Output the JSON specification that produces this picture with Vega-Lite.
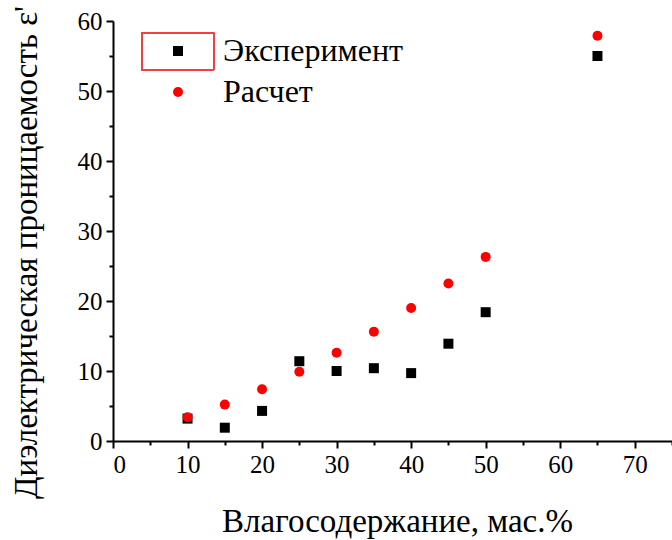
{
  "$schema": "https://vega.github.io/schema/vega-lite/v6.json",
  "autosize": {"type": "none"},
  "width": 559,
  "height": 420,
  "padding": {"left": 113, "top": 21, "right": 0, "bottom": 99},
  "background": "white",
  "config": {
    "view": {"stroke": null},
    "font": "Liberation Serif",
    "axis": {
      "grid": false,
      "domainColor": "black",
      "domainWidth": 2,
      "tickColor": "black",
      "tickWidth": 2,
      "labelFont": "Liberation Serif",
      "labelColor": "black",
      "labelFontSize": 25,
      "titleFont": "Liberation Serif",
      "titleColor": "black",
      "titleFontWeight": "normal",
      "titleFontSize": 33
    },
    "legend": {"padding": 0}
  },
  "data": {
    "values": [
      {"w": 10, "eps": 3.2, "series": "Эксперимент"},
      {"w": 15, "eps": 1.9, "series": "Эксперимент"},
      {"w": 20, "eps": 4.3, "series": "Эксперимент"},
      {"w": 25, "eps": 11.4, "series": "Эксперимент"},
      {"w": 30, "eps": 10.0, "series": "Эксперимент"},
      {"w": 35, "eps": 10.4, "series": "Эксперимент"},
      {"w": 40, "eps": 9.7, "series": "Эксперимент"},
      {"w": 45, "eps": 13.9, "series": "Эксперимент"},
      {"w": 50, "eps": 18.4, "series": "Эксперимент"},
      {"w": 65, "eps": 55.0, "series": "Эксперимент"},
      {"w": 10, "eps": 3.4, "series": "Расчет"},
      {"w": 15, "eps": 5.2, "series": "Расчет"},
      {"w": 20, "eps": 7.4, "series": "Расчет"},
      {"w": 25, "eps": 9.9, "series": "Расчет"},
      {"w": 30, "eps": 12.6, "series": "Расчет"},
      {"w": 35, "eps": 15.6, "series": "Расчет"},
      {"w": 40, "eps": 19.0, "series": "Расчет"},
      {"w": 45, "eps": 22.5, "series": "Расчет"},
      {"w": 50, "eps": 26.3, "series": "Расчет"},
      {"w": 65, "eps": 57.9, "series": "Расчет"}
    ]
  },
  "resolve": {"axis": {"x": "independent", "y": "independent"}},
  "layer": [
    {
      "description": "minor ticks at the half steps",
      "mark": {"type": "point", "opacity": 0},
      "encoding": {
        "x": {
          "field": "w", "type": "quantitative",
          "scale": {"domain": [0, 75], "nice": false},
          "axis": {"orient": "bottom", "values": [5, 15, 25, 35, 45, 55, 65, 75], "labels": false, "domain": false, "tickSize": 4, "title": null}
        },
        "y": {
          "field": "eps", "type": "quantitative",
          "scale": {"domain": [0, 60], "nice": false},
          "axis": {"orient": "left", "values": [5, 15, 25, 35, 45, 55], "labels": false, "domain": false, "tickSize": 4, "title": null}
        }
      }
    },
    {
      "mark": {"type": "rect", "filled": false, "stroke": "#f04040", "strokeWidth": 1},
      "encoding": {
        "x": {"datum": 3.85, "type": "quantitative", "axis": null},
        "x2": {"datum": 13.55},
        "y": {"datum": 53.0, "type": "quantitative", "axis": null},
        "y2": {"datum": 58.3}
      }
    },
    {
      "mark": {"type": "point", "filled": true, "opacity": 1, "size": 100},
      "encoding": {
        "x": {
          "field": "w", "type": "quantitative",
          "scale": {"domain": [0, 75], "nice": false},
          "axis": {"orient": "bottom", "values": [0, 10, 20, 30, 40, 50, 60, 70], "tickSize": 7, "labelPadding": 4, "title": "Влагосодержание, мас.%", "titlePadding": 28, "titleX": 284}
        },
        "y": {
          "field": "eps", "type": "quantitative",
          "scale": {"domain": [0, 60], "nice": false},
          "axis": {"orient": "left", "values": [0, 10, 20, 30, 40, 50, 60], "tickSize": 7, "labelPadding": 4, "title": "Диэлектрическая проницаемость ε'", "titlePadding": 34, "titleY": 231}
        },
        "shape": {
          "field": "series", "type": "nominal",
          "scale": {"domain": ["Эксперимент", "Расчет"], "range": ["square", "circle"]},
          "legend": {
            "orient": "none", "legendX": 49, "legendY": 14, "title": null,
            "symbolSize": 100, "symbolStrokeWidth": 0,
            "labelFont": "Liberation Serif", "labelFontSize": 32, "labelColor": "black",
            "labelOffset": 29, "labelLimit": 400, "rowPadding": 9
          }
        },
        "color": {
          "field": "series", "type": "nominal",
          "scale": {"domain": ["Эксперимент", "Расчет"], "range": ["black", "#ff0000"]}
        }
      }
    }
  ]
}
